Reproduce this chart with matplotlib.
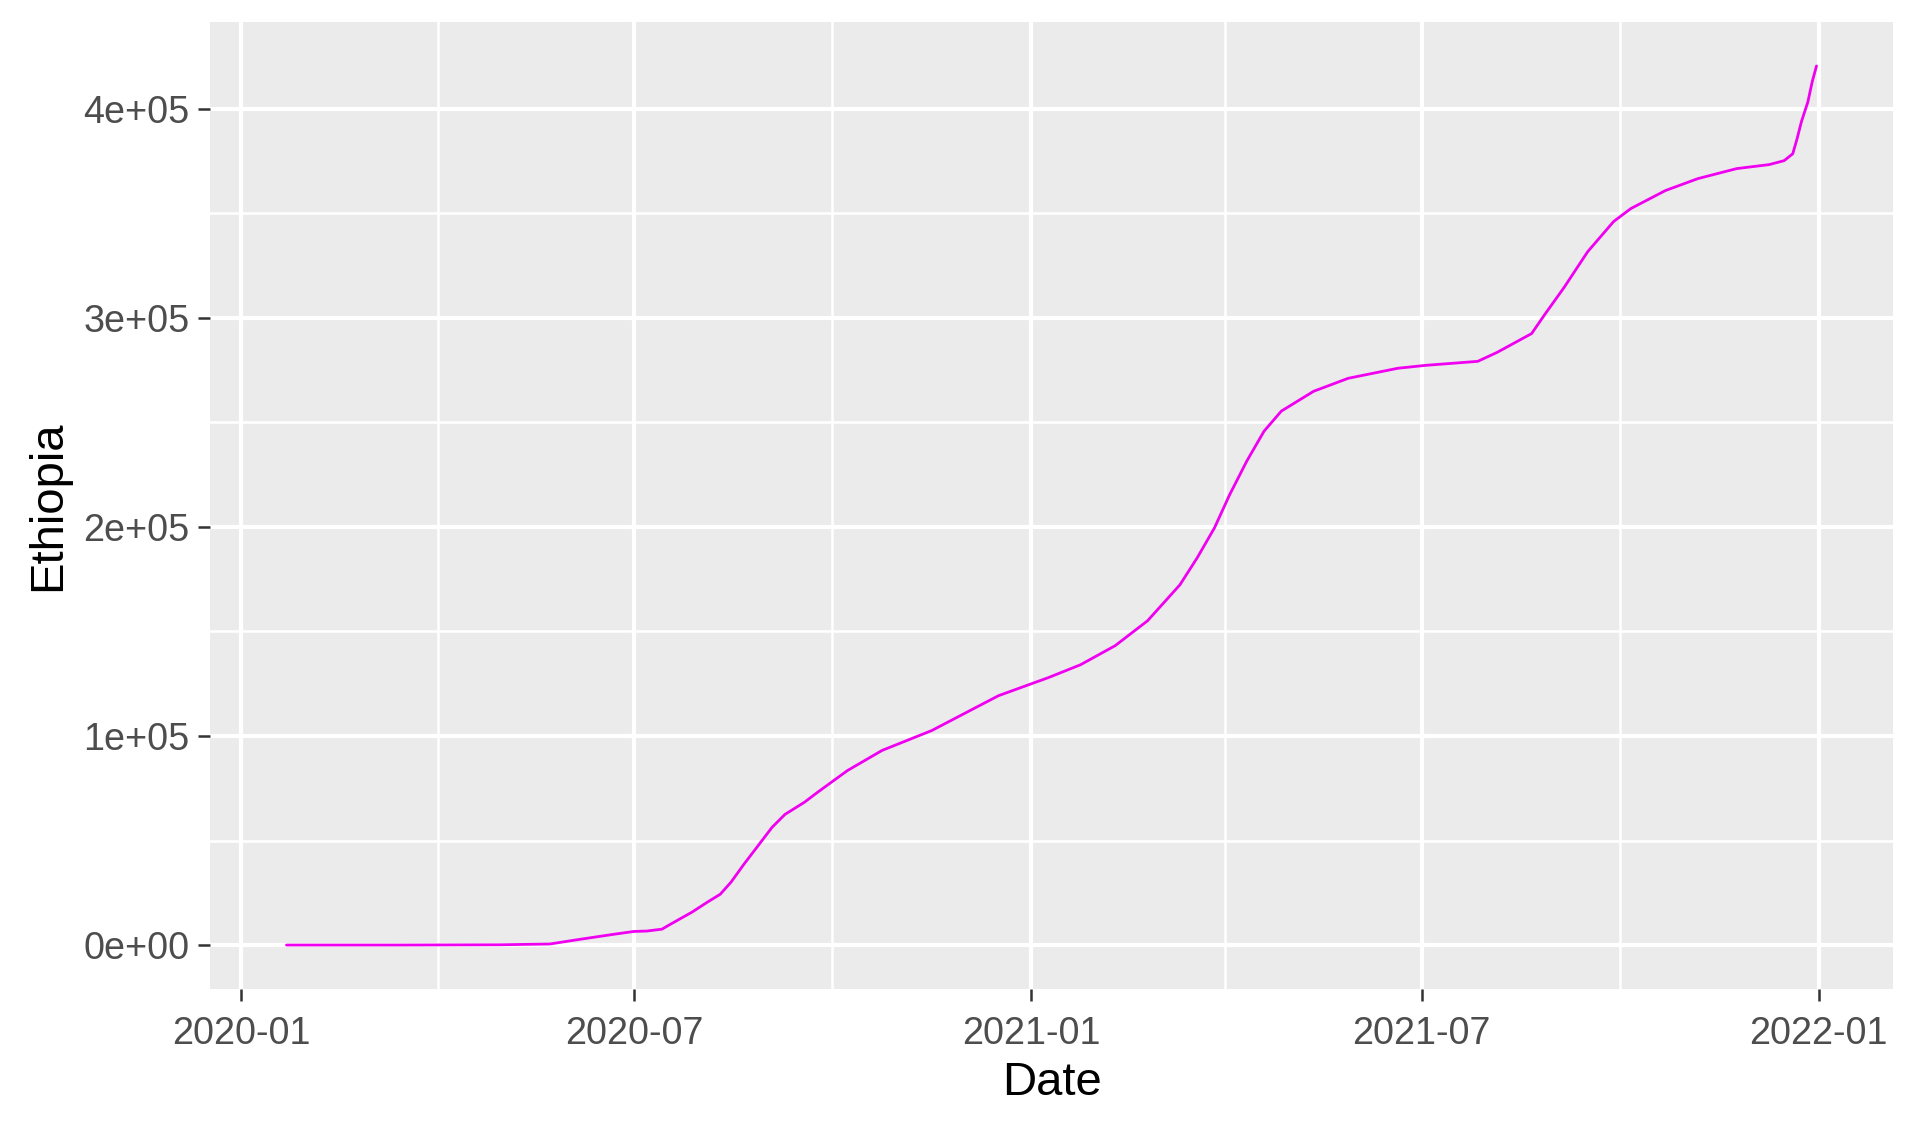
import matplotlib
matplotlib.use("Agg")
import matplotlib.pyplot as plt
import matplotlib.dates as mdates
import pandas as pd
import numpy as np

plt.rcParams['font.family'] = ['Liberation Sans', 'DejaVu Sans']

# ---- data ----
dates = ["2020-01-22", "2020-03-13", "2020-04-30", "2020-05-23", "2020-06-07",
         "2020-06-22", "2020-07-01", "2020-07-07", "2020-07-14", "2020-07-18",
         "2020-07-28", "2020-08-04", "2020-08-10", "2020-08-15", "2020-08-21",
         "2020-08-27", "2020-09-03", "2020-09-09", "2020-09-18", "2020-09-24",
         "2020-10-08", "2020-10-24", "2020-11-16", "2020-12-09", "2020-12-17",
         "2021-01-09", "2021-01-24", "2021-02-09", "2021-02-24", "2021-03-11",
         "2021-03-19", "2021-03-27", "2021-04-03", "2021-04-11", "2021-04-19",
         "2021-04-27", "2021-05-12", "2021-05-28", "2021-06-20", "2021-07-03",
         "2021-07-27", "2021-08-05", "2021-08-21", "2021-08-27", "2021-09-05",
         "2021-09-16", "2021-09-28", "2021-10-06", "2021-10-22", "2021-11-06",
         "2021-11-24", "2021-12-09", "2021-12-16", "2021-12-20", "2021-12-22",
         "2021-12-24", "2021-12-27", "2021-12-29", "2021-12-31"]
cases = [0, 0, 130, 500, 2900,
         5200, 6500, 6700, 7600, 10000,
         15800, 20500, 24300, 30100, 38700,
         46800, 56300, 62500, 68300, 73000,
         83500, 93100, 102600, 115000, 119300,
         127900, 134100, 143200, 155100, 172300,
         185200, 199500, 215300, 231500, 245800,
         255400, 264900, 271100, 275900, 277300,
         279200, 283500, 292500, 301500, 314500,
         331700, 346100, 352300, 360900, 366600,
         371400, 373300, 375200, 378500, 385700,
         393800, 403300, 412900, 420500]

x_ticks = ["2020-01-01", "2020-07-01", "2021-01-01", "2021-07-01", "2022-01-01"]
x_tick_labels = ["2020-01", "2020-07", "2021-01", "2021-07", "2022-01"]
x_minor = ["2020-04-01", "2020-10-01", "2021-04-01", "2021-10-01"]
y_ticks = [0, 100000, 200000, 300000, 400000]
y_tick_labels = ["0e+00", "1e+05", "2e+05", "3e+05", "4e+05"]
y_minor = [50000, 150000, 250000, 350000]

d = pd.to_datetime(dates)
xt = pd.to_datetime(x_ticks)
xm = pd.to_datetime(x_minor)

W, H = 1919, 1131
fig = plt.figure(figsize=(W / 100, H / 100), dpi=100)
left, right = 210 / W, 1893 / W
top, bottom = 1 - 22 / H, 1 - 989 / H
ax = fig.add_axes([left, bottom, right - left, top - bottom])
ax.set_facecolor("#EBEBEB")
for s in ax.spines.values():
    s.set_visible(False)

# ggplot-like 5% expansion
xn = mdates.date2num(d)
xr = xn.max() - xn.min()
ax.set_xlim(xn.min() - 0.05 * xr, xn.max() + 0.05 * xr)
yr = max(cases) - min(cases)
ax.set_ylim(min(cases) - 0.05 * yr, max(cases) + 0.05 * yr)

# grid
for v in mdates.date2num(xm):
    ax.axvline(v, color="white", lw=1.8, zorder=0.5)
for v in y_minor:
    ax.axhline(v, color="white", lw=1.8, zorder=0.5)
for v in mdates.date2num(xt):
    ax.axvline(v, color="white", lw=3.0, zorder=0.6)
for v in y_ticks:
    ax.axhline(v, color="white", lw=3.0, zorder=0.6)

ax.plot(d, cases, color="#F000F0", lw=2.0, zorder=2,
        solid_joinstyle="round", solid_capstyle="round")

ax.set_xticks(mdates.date2num(xt))
ax.set_xticklabels(x_tick_labels)
ax.set_yticks(y_ticks)
ax.set_yticklabels(y_tick_labels)
ax.tick_params(axis="both", length=8.6, width=1.8, color="#333333",
               labelcolor="#4D4D4D", labelsize=27.2)
ax.tick_params(axis="x", pad=11)
ax.tick_params(axis="y", pad=6)

ax.set_xlabel("Date", fontsize=34, color="black", labelpad=6)
ax.set_ylabel("Ethiopia", fontsize=34, color="black", labelpad=9.5)

fig.savefig("out.png", dpi=100, facecolor="white")
